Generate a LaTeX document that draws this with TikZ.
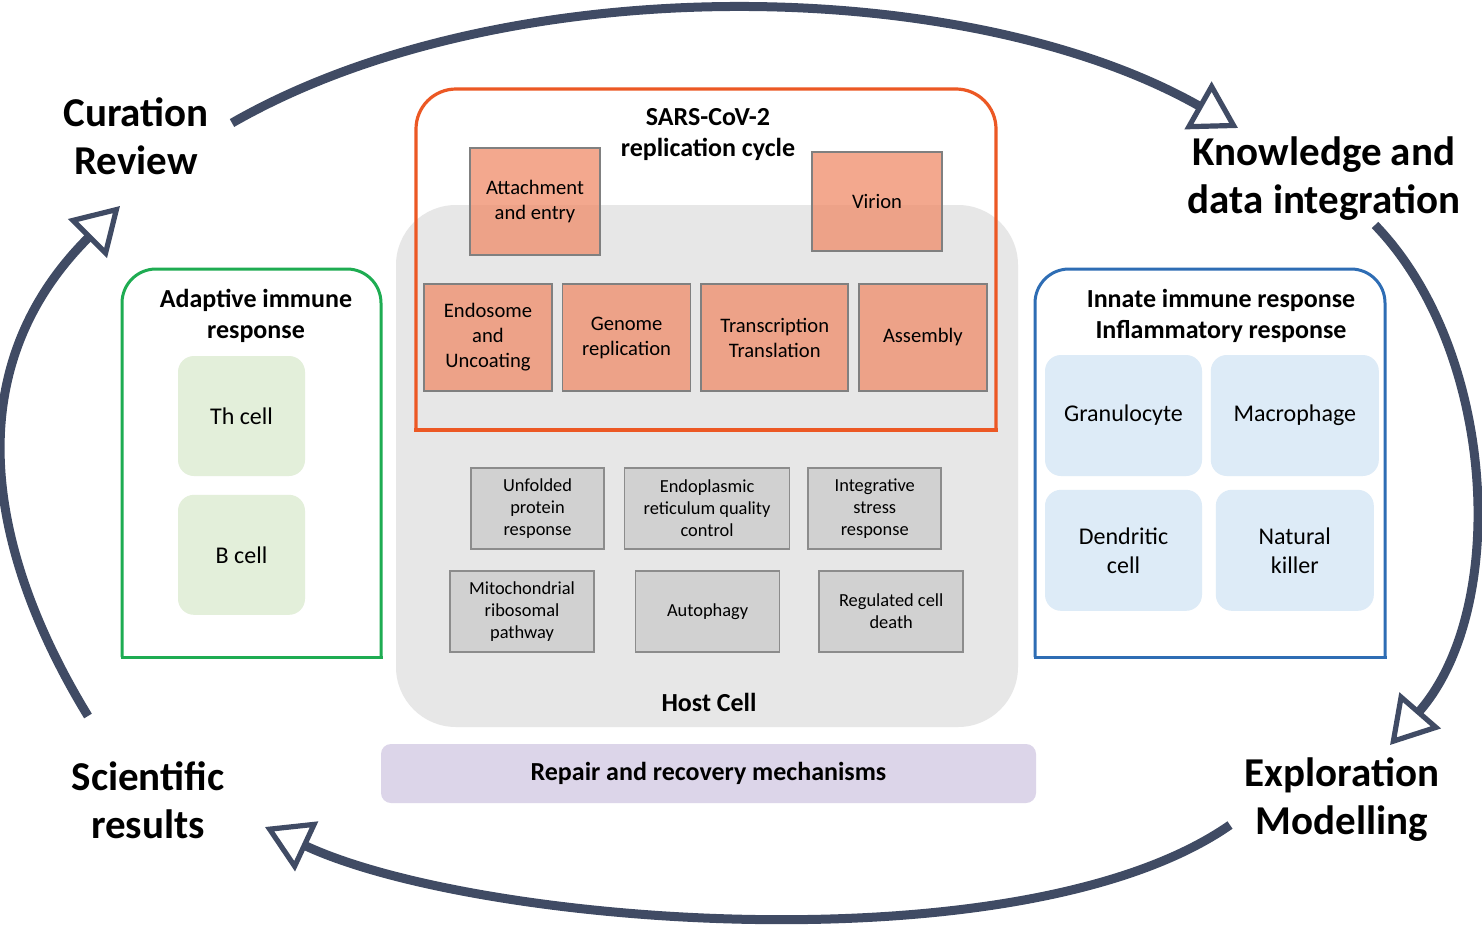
\documentclass[tikz,border=0pt]{standalone}
\usepackage{fontspec}
\setmainfont{Carlito}
\usetikzlibrary{arrows.meta,positioning}

\definecolor{cyccol}{RGB}{64,75,100}
\definecolor{virline}{RGB}{236,88,36}
\definecolor{salmon}{RGB}{240,140,105}
\definecolor{hostfill}{RGB}{231,231,231}
\definecolor{hostbox}{RGB}{209,209,209}
\definecolor{adaptline}{RGB}{30,172,82}
\definecolor{adaptfill}{RGB}{227,239,218}
\definecolor{innateline}{RGB}{46,109,180}
\definecolor{innatefill}{RGB}{221,235,247}
\definecolor{repairfill}{RGB}{220,213,233}

\begin{document}
\begin{tikzpicture}[x=0.5pt,y=-0.5pt,
    vstep/.style={draw=black!50,line width=0.8pt,fill=salmon,fill opacity=0.75,
                  text opacity=1,align=center,font=\fontsize{10.3}{12.5}\selectfont,
                  minimum width=64pt,minimum height=53.5pt,inner sep=1pt},
    hstep/.style={draw=black!45,line width=0.8pt,fill=hostbox,align=center,
                  font=\fontsize{9.2}{11}\selectfont,minimum width=66.5pt,
                  minimum height=40.5pt,inner sep=1pt},
    acell/.style={fill=adaptfill,rounded corners=8pt,align=center,
                  font=\fontsize{12}{14.5}\selectfont,minimum width=63.5pt,
                  minimum height=60pt},
    icell/.style={fill=innatefill,rounded corners=8pt,align=center,
                  font=\fontsize{12}{14.5}\selectfont,minimum width=78.5pt,
                  minimum height=60.5pt},
    title/.style={font=\bfseries\fontsize{13}{15.5}\selectfont,align=center},
    stage/.style={font=\bfseries\fontsize{20.5}{24}\selectfont,align=center},
    cyc/.style={draw=cyccol,line width=4.5pt,
                -{Triangle[fill=white,length=23pt,width=27pt,line width=2.6pt]}}]

  \useasboundingbox[fill=white] (0,0) rectangle (1482,926);

  % host cell and the boxes round it
  \fill[hostfill,rounded corners=30pt] (396,205) rectangle (1018,727);
  \draw[virline,line width=1.6pt,rounded corners=20pt]
        (416,430) -- (416,89) -- (996,89) -- (996,430);
  \draw[virline,line width=1.6pt,line cap=rect] (416,430) -- (996,430);
  \draw[adaptline,line width=1.5pt,rounded corners=17pt]
        (122,657) -- (122,269) -- (381,269) -- (381,657);
  \draw[adaptline,line width=1.5pt,line cap=rect] (122,657) -- (381,657);
  \draw[innateline,line width=1.5pt,rounded corners=17pt]
        (1035,657) -- (1035,269) -- (1385,269) -- (1385,657);
  \draw[innateline,line width=1.5pt,line cap=rect] (1035,657) -- (1385,657);

  % replication cycle
  \node[title] (sars) at (708,135) {SARS-CoV-2\\replication cycle};
  \node[vstep,minimum width=65pt] (att) at (535,201.5) {Attachment\\and entry};
  \node[vstep,minimum width=65pt,minimum height=49.5pt] (vir) at (877,201.5) {Virion};
  \node[vstep] (endo) at (488,337.5) {Endosome\\and\\Uncoating};
  \node[vstep] (geno) [right=4.5pt of endo] {Genome\\replication};
  \node[vstep,minimum width=73.5pt] (trans) [right=4.5pt of geno] {Transcription\\Translation};
  \node[vstep] (assem) [right=4.5pt of trans] {Assembly};

  % host cell pathways
  \node[hstep] (upr) at (537.5,508.5) {Unfolded\\protein\\response};
  \node[hstep,minimum width=82.5pt] (erqc) [right=9.5pt of upr] {Endoplasmic\\reticulum quality\\control};
  \node[hstep] (isr) [right=8.5pt of erqc] {Integrative\\stress\\response};
  \node[hstep,minimum width=72pt] (mrp) at (522,611.5) {Mitochondrial\\ribosomal\\pathway};
  \node[hstep,minimum width=72pt] (autoph) [right=20pt of mrp] {Autophagy};
  \node[hstep,minimum width=72pt] (rcd) [right=19pt of autoph] {Regulated cell\\death};
  \node[title] (host) at (709,702) {Host Cell};

  \node[fill=repairfill,rounded corners=5pt,minimum width=327.5pt,minimum height=29.5pt,
        font=\bfseries\fontsize{13}{15}\selectfont] (repair) at (708.5,773.5)
        {Repair and recovery mechanisms};

  % adaptive immunity
  \node[title] (adapt) at (256,316) {Adaptive immune\\response};
  \node[acell] (thc) at (241.5,416) {Th cell};
  \node[acell] (bc) [below=9pt of thc] {B cell};

  % innate immunity
  \node[title] (innate) at (1221,316) {Innate immune response\\Inflammatory response};
  \node[icell] (gran) at (1123.5,415.5) {Granulocyte};
  \node[icell,minimum width=84pt] (macro) [right=4pt of gran] {Macrophage};
  \node[icell] (dend) [below=6.5pt of gran] {Dendritic\\cell};
  \node[icell,minimum width=79pt] (nk) [right=6.5pt of dend] {Natural\\killer};

  % stages of the cycle
  \node[stage] (cur) at (136,136) {Curation\\Review};
  \node[stage] (know) at (1324,179) {Knowledge and\\data integration};
  \node[stage] (expl) at (1342,800) {Exploration\\Modelling};
  \node[stage] (sci) at (148,800) {Scientific\\results};

  \coordinate (a0) at (232,123);  \coordinate (a1) at (1238,128);
  \coordinate (b0) at (1375,225); \coordinate (b1) at (1390,745);
  \coordinate (c0) at (1230,825); \coordinate (c1) at (265,827);
  \coordinate (d0) at (88,716);   \coordinate (d1) at (120,206);

  \draw[cyc] (a0) .. controls (504,-33) and (966,-26) .. (a1);
  \draw[cyc] (b0) .. controls (1496,350) and (1510,607) .. (b1);
  \draw[cyc] (c0) .. controls (1023,969) and (478,926) .. (c1);
  \draw[cyc] (d0) .. controls (-3,567) and (-53,379) .. (d1);
\end{tikzpicture}
\end{document}
